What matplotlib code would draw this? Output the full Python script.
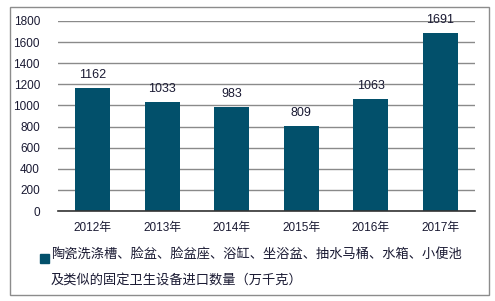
import matplotlib
matplotlib.use('Agg')
import matplotlib.pyplot as plt
from matplotlib.patches import Rectangle

plt.rcParams['font.family'] = ['Liberation Sans', 'Noto Sans CJK SC', 'DejaVu Sans']

# data
years = ['2012年', '2013年', '2014年', '2015年', '2016年', '2017年']
values = [1162, 1033, 983, 809, 1063, 1691]
yticks = [0, 200, 400, 600, 800, 1000, 1200, 1400, 1600, 1800]
legend_text = '陶瓷洗涤槽、脸盆、脸盆座、浴缸、坐浴盆、抽水马桶、水箱、小便池\n及类似的固定卫生设备进口数量（万千克）'

bar_color = '#02506b'
text_color = '#1a1a33'

W, H = 495, 301
fig = plt.figure(figsize=(W / 100, H / 100), dpi=100)

# outer frame
fig.patches.append(Rectangle((10 / W, (H - 295) / H), 479 / W, 288 / H,
                             transform=fig.transFigure, fill=False,
                             edgecolor='#8c8c8c', linewidth=1))

ax = fig.add_axes([58 / W, (H - 211) / H, 417 / W, 190 / H])
x = range(len(years))
ax.bar(x, values, width=0.5, color=bar_color, zorder=3)
for i, v in zip(x, values):
    ax.annotate(str(v), (i, v), xytext=(0, 5), textcoords='offset points',
                ha='center', va='bottom', fontsize=9, color=text_color)

ax.set_xlim(-0.5, len(years) - 0.5)
ax.set_ylim(0, 1800)
ax.set_yticks(yticks)
ax.set_xticks(list(x))
ax.set_xticklabels(years)
ax.tick_params(axis='both', length=0, labelsize=8.5, colors=text_color)
ax.tick_params(axis='y', pad=13)
ax.tick_params(axis='x', pad=8)
ax.grid(axis='y', color='#8a8a8a', linewidth=1, zorder=0)
for s in ['left', 'right', 'top']:
    ax.spines[s].set_visible(False)
ax.spines['bottom'].set_color('#333333')
ax.spines['bottom'].set_linewidth(1.2)
ax.spines['bottom'].set_zorder(4)

# legend
fig.patches.append(Rectangle((40 / W, (H - 263) / H), 9 / W, 9 / H,
                             transform=fig.transFigure, color=bar_color))
fig.text(51 / W, (H - 249) / H, legend_text, fontsize=9.5, color=text_color,
         va='top', ha='left', linespacing=2.2,
         transform=fig.transFigure)

fig.savefig('out.png', dpi=100)
